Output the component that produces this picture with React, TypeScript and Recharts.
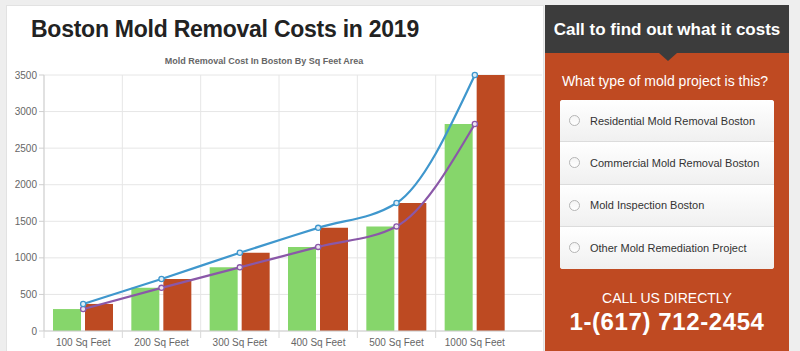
import React from "react";
import { ComposedChart, Bar, Line, XAxis, YAxis, CartesianGrid } from "recharts";

const categories = ["100 Sq Feet", "200 Sq Feet", "300 Sq Feet", "400 Sq Feet", "500 Sq Feet", "1000 Sq Feet"];
const lowCost = [300, 590, 870, 1150, 1430, 2830];
const highCost = [370, 710, 1070, 1410, 1750, 3500];
const yTicks = [0, 500, 1000, 1500, 2000, 2500, 3000, 3500];
const projectTypes = [
  "Residential Mold Removal Boston",
  "Commercial Mold Removal Boston",
  "Mold Inspection Boston",
  "Other Mold Remediation Project",
];

const data = categories.map((name, i) => ({ name, low: lowCost[i], high: highCost[i] }));

const FONT = '"Liberation Sans", Arial, sans-serif';
const CHART_W = 542;
const CHART_H = 301;
const YAXIS_W = 44;
const PAD_RIGHT = 28;
const BAND = (CHART_W - YAXIS_W - PAD_RIGHT) / categories.length;

const GREEN = "#86d66b";
const RUST = "#bd4a22";
const BLUE = "#3f97cd";
const PURPLE = "#8a58a8";

function XTick(props: any) {
  const { x, y, payload } = props;
  return (
    <g>
      <line x1={x - BAND / 2} x2={x - BAND / 2} y1={y - 8} y2={y - 1} stroke="#d8d8d8" />
      <text x={x} y={y} dy="0.71em" textAnchor="middle" fontSize={10} fill="#666" fontFamily={FONT}>
        {payload.value}
      </text>
    </g>
  );
}

// text placed by baseline (line-height 1, Liberation Sans metrics)
function Txt({ children, baseline, size, left, width, bold, color, spacing }: any) {
  return (
    <div
      style={{
        position: "absolute",
        left,
        width,
        top: baseline - size * 0.8465,
        fontSize: size,
        lineHeight: 1,
        fontWeight: bold ? 700 : 400,
        color,
        textAlign: width ? "center" : "left",
        letterSpacing: spacing || 0,
        whiteSpace: "nowrap",
      }}
    >
      {children}
    </div>
  );
}

export default function App() {
  return (
    <div
      style={{
        position: "absolute",
        left: 0,
        top: 0,
        width: 800,
        height: 351,
        overflow: "hidden",
        background: "#eeeeee",
        fontFamily: FONT,
      }}
    >
      {/* left card */}
      <div
        style={{
          position: "absolute",
          left: 6,
          top: 5,
          width: 536,
          height: 360,
          background: "#fff",
          border: "1px solid #e2e2e2",
        }}
      />
      <Txt baseline={37.3} size={23} left={31} bold color="#222" spacing={-0.25}>
        Boston Mold Removal Costs in 2019
      </Txt>
      <Txt baseline={65} size={9} left={0} width={528} bold color="#666">
        Mold Removal Cost In Boston By Sq Feet Area
      </Txt>

      <div style={{ position: "absolute", left: 0, top: 50 }}>
        <ComposedChart
          width={CHART_W}
          height={CHART_H}
          data={data}
          margin={{ top: 25, right: 0, bottom: 0, left: 0 }}
          barCategoryGap={9}
          barGap={4}
        >
          <CartesianGrid
            stroke="#e6e6e6"
            verticalCoordinatesGenerator={({ offset }: any) =>
              categories.map((_, i) => offset.left + i * BAND)
            }
          />
          <XAxis
            dataKey="name"
            height={20}
            padding={{ left: 0, right: PAD_RIGHT }}
            axisLine={{ stroke: "#cfcfcf" }}
            tickLine={false}
            tick={<XTick />}
            interval={0}
          />
          <YAxis
            width={YAXIS_W}
            domain={[0, 3500]}
            ticks={yTicks}
            interval={0}
            tickSize={5}
            axisLine={{ stroke: "#cfcfcf" }}
            tickLine={{ stroke: "#cfcfcf" }}
            tick={{ fontSize: 10, fill: "#666", fontFamily: FONT }}
          />
          <Bar dataKey="low" fill={GREEN} isAnimationActive={false} />
          <Bar dataKey="high" fill={RUST} isAnimationActive={false} />
          <Line
            type="monotone"
            dataKey="low"
            stroke={PURPLE}
            strokeWidth={2.2}
            dot={{ r: 2.6, fill: "#eee6f3", stroke: PURPLE, strokeWidth: 1.3 }}
            activeDot={false}
            isAnimationActive={false}
          />
          <Line
            type="monotone"
            dataKey="high"
            stroke={BLUE}
            strokeWidth={2.2}
            dot={{ r: 2.6, fill: "#deedf7", stroke: BLUE, strokeWidth: 1.3 }}
            activeDot={false}
            isAnimationActive={false}
          />
        </ComposedChart>
      </div>

      {/* call panel */}
      <div style={{ position: "absolute", left: 545, top: 53, width: 244, height: 300, background: "#bf4a22" }} />
      <div style={{ position: "absolute", left: 545, top: 5, width: 244, height: 48, background: "#3c3c3c" }} />
      <div
        style={{
          position: "absolute",
          left: 659,
          top: 53,
          width: 0,
          height: 0,
          borderLeft: "9px solid transparent",
          borderRight: "9px solid transparent",
          borderTop: "8px solid #3c3c3c",
        }}
      />
      <Txt baseline={35} size={17} left={545} width={244} bold color="#fff">
        Call to find out what it costs
      </Txt>
      <Txt baseline={86} size={14} left={545} width={240} color="#fff">
        What type of mold project is this?
      </Txt>
      <div
        style={{
          position: "absolute",
          left: 560,
          top: 100,
          width: 214,
          height: 169,
          borderRadius: 3,
          overflow: "hidden",
          background: "#fff",
        }}
      >
        {projectTypes.map((label, i) => (
          <div
            key={label}
            style={{
              height: 42.25,
              boxSizing: "border-box",
              borderBottom: i < projectTypes.length - 1 ? "1px solid #dcdcdc" : "none",
              background: "linear-gradient(#ffffff, #f0f0f0)",
              display: "flex",
              alignItems: "center",
              position: "relative",
            }}
          >
            <div
              style={{
                position: "absolute",
                left: 9,
                width: 9,
                height: 9,
                borderRadius: "50%",
                border: "1px solid #b5b5b5",
                background: "linear-gradient(#f4f4f4, #ffffff)",
              }}
            />
            <span style={{ marginLeft: 30, fontSize: 11, color: "#333" }}>{label}</span>
          </div>
        ))}
      </div>
      <Txt baseline={302.7} size={14} left={545} width={244} color="#fff">
        CALL US DIRECTLY
      </Txt>
      <Txt baseline={330} size={24} left={545} width={244} bold color="#fff" spacing={0.6}>
        1-(617) 712-2454
      </Txt>
    </div>
  );
}
